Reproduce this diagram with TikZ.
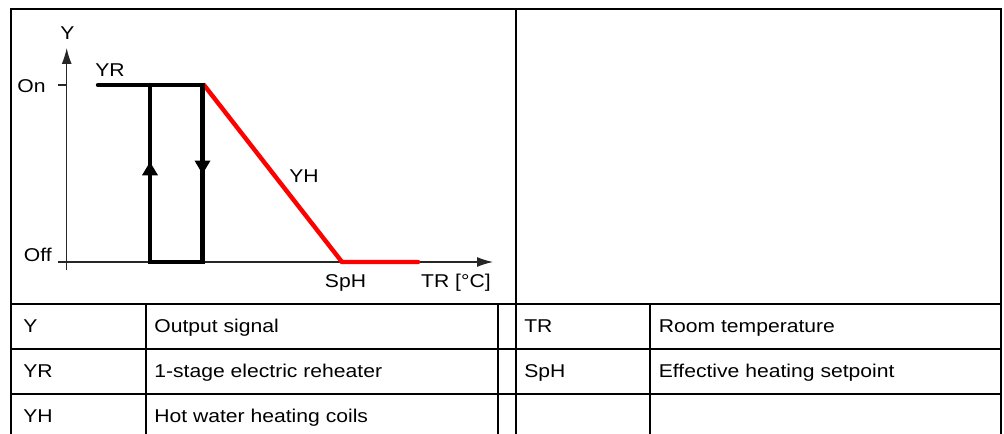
\documentclass[tikz,border=0pt]{standalone}
\usepackage{fontspec}
\setmainfont{Liberation Sans}[FakeStretch=1.14]
\usetikzlibrary{arrows.meta}

\begin{document}
\begin{tikzpicture}[x=0.75pt, y=-0.75pt, line width=2pt,
        every node/.style={font=\fontsize{13.9}{16}\selectfont, inner sep=0pt},
        axis/.style={line width=0.9pt, black!85},
        curve/.style={line width=3.3pt},
        cell/.style={anchor=base west}]
        \useasboundingbox (0,0) rectangle (1004,434);

        % table frame
        \draw (11,434) -- (11,9) -- (1001,9) -- (1001,434);
        \draw (516,9) -- (516,434);
        \foreach \y in {304,349,394} \draw (11,\y) -- (1001,\y);
        \foreach \x in {146,498,650} \draw (\x,304) -- (\x,434);

        % axes
        \draw[axis, -{Latex[length=12pt,width=7.5pt]}] (66.7,270) -- (66.7,48);
        \draw[axis, -{Latex[length=12pt,width=7.5pt]}] (58,262) -- (493,262);
        \draw[axis] (58,85) -- (66.7,85);

        \draw[curve, red, line cap=round] (204,85) -- (342,262) -- (418,262);
        \draw[curve, line cap=round, line join=miter] (98,85) -- (202.5,85) -- (202.5,262) -- (150,262) -- (150,85);
        \draw[curve, -{Triangle[length=10pt,width=12pt,line width=0pt]}] (150,200) -- (150,162);
        \draw[curve, -{Triangle[length=10pt,width=12pt,line width=0pt]}] (202.5,140) -- (202.5,174);

        \node[anchor=base] (ylabel) at (67.5,40) {Y};
        \node[anchor=base] (yr) at (110,77) {YR};
        \node[anchor=base east] (on) at (47,93) {On};
        \node[anchor=base east] (off) at (53,262) {Off};
        \node[anchor=base] (yh) at (304,183) {YH};
        \node[anchor=base] (sph) at (345.5,288) {SpH};
        \node[anchor=base east] (tr) at (492,288) {TR [°C]};

        % legend
        \node[cell] (keyY) at (22,332.5) {Y};
        \node[cell] (descY) at (153,332.5) {Output signal};
        \node[cell] (keyYR) at (22,377.5) {YR};
        \node[cell] (descYR) at (153,377.5) {1-stage electric reheater};
        \node[cell] (keyYH) at (22,423) {YH};
        \node[cell] (descYH) at (153,423) {Hot water heating coils};
        \node[cell] (keyTR) at (523,332.5) {TR};
        \node[cell] (descTR) at (657.5,332.5) {Room temperature};
        \node[cell] (keySpH) at (523,377.5) {SpH};
        \node[cell] (descSpH) at (657.5,377.5) {Effective heating setpoint};
    \end{tikzpicture}
\end{document}
